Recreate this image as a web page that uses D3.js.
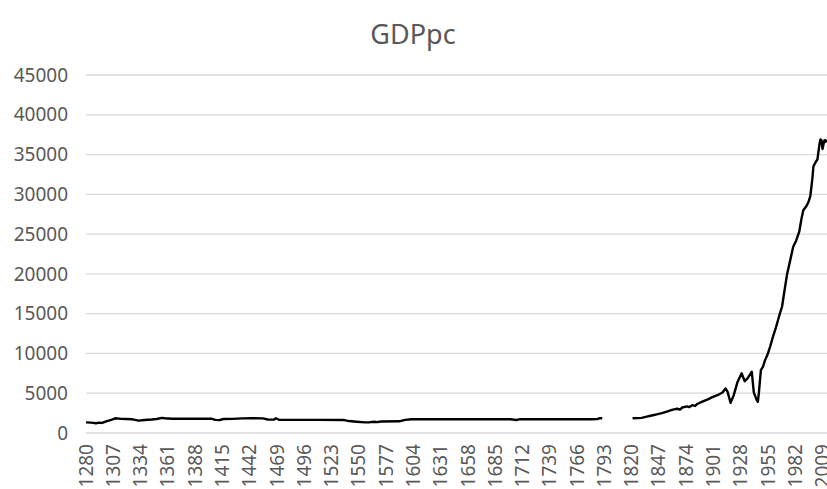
<!DOCTYPE html>
<html>
<head>
<meta charset="utf-8">
<script src="https://cdn.jsdelivr.net/npm/d3@7"></script>
<style>
  body { margin: 0; background: #fff; }
  svg text { font-family: "Noto Sans", "Open Sans", sans-serif; fill: #595959; }
</style>
</head>
<body>
<div id="chart"></div>
<script>
// GDP per capita (null = no data)
const years = [
  1280, 1285, 1290, 1293, 1296, 1300, 1305, 1309, 1315, 1320, 1326, 1332, 1338, 1345, 1350,
  1355, 1358, 1365, 1375, 1390, 1404, 1408, 1412, 1416, 1425, 1435, 1445, 1455, 1460, 1466,
  1468, 1471, 1490, 1510, 1535, 1540, 1548, 1556, 1561, 1565, 1568, 1572, 1590, 1596, 1602,
  1620, 1650, 1700, 1706, 1709, 1750, 1780, 1786, 1788, 1791,
  1800,
  1821, 1826, 1830, 1835, 1840, 1845, 1850, 1855, 1860, 1865, 1868, 1870, 1875, 1877, 1880,
  1883, 1885, 1890, 1895, 1900, 1905, 1910, 1913, 1915, 1918, 1921, 1925, 1929, 1932, 1935,
  1939, 1941, 1944, 1945, 1946, 1948, 1950, 1952, 1955, 1957, 1960, 1963, 1965, 1967, 1969,
  1971, 1974, 1977, 1980, 1983, 1986, 1988, 1990, 1993, 1995, 1997, 1999, 2000, 2002, 2004,
  2006, 2007, 2008, 2009, 2010, 2011, 2012, 2013
];
const gdppc = [
  1340, 1300, 1230, 1300, 1260, 1450, 1650, 1850, 1780, 1760, 1720, 1560, 1640, 1700, 1760,
  1900, 1850, 1800, 1800, 1790, 1800, 1650, 1620, 1760, 1780, 1840, 1850, 1840, 1700, 1680,
  1850, 1660, 1650, 1650, 1640, 1500, 1420, 1330, 1360, 1420, 1360, 1440, 1470, 1650, 1720,
  1720, 1720, 1720, 1640, 1720, 1720, 1730, 1740, 1850, 1850,
  null,
  1850, 1870, 1900, 2050, 2200, 2350, 2500, 2700, 2900, 3050, 2950, 3200, 3350, 3250, 3500,
  3400, 3650, 3950, 4200, 4500, 4750, 5100, 5600, 5200, 3800, 4700, 6450, 7500, 6500, 6900,
  7700, 5100, 4100, 3930, 5000, 7900, 8300, 9100, 10000, 10800, 12100, 13300, 14200, 15100, 15900,
  17600, 20000, 21700, 23400, 24200, 25300, 26800, 28000, 28500, 29000, 29800, 32000, 33500, 34000, 34400,
  36300, 36900, 36800, 35700, 36300, 36800, 36600, 36900
];
const yTicks = [0, 5000, 10000, 15000, 20000, 25000, 30000, 35000, 40000, 45000];
const xTickYears = d3.range(1280, 2010, 27);
const chartTitle = "GDPpc";

const W = 827, H = 489;
const svg = d3.select("#chart").append("svg")
  .attr("width", W).attr("height", H);

const x = d3.scaleLinear().domain([1280, 2009]).range([86, 822.5]);
const y = d3.scaleLinear().domain([0, 45000]).range([433, 75]);

svg.append("text")
  .attr("x", 413).attr("y", 44)
  .attr("text-anchor", "middle")
  .style("font-size", "27px")
  .text(chartTitle);

// gridlines + y labels
svg.append("g").selectAll("line")
  .data(yTicks).join("line")
  .attr("x1", 86).attr("x2", 827)
  .attr("y1", d => y(d)).attr("y2", d => y(d))
  .attr("stroke", "#d9d9d9").attr("stroke-width", 1.3);

svg.append("g").selectAll("text")
  .data(yTicks).join("text")
  .attr("x", 68).attr("y", d => y(d))
  .attr("dy", "0.35em")
  .attr("text-anchor", "end")
  .style("font-size", "19px")
  .text(d => d);

// x labels, rotated
svg.append("g").selectAll("text")
  .data(xTickYears).join("text")
  .attr("transform", d => `translate(${x(d)},444) rotate(-90)`)
  .attr("dy", "0.35em")
  .attr("text-anchor", "end")
  .style("font-size", "19px")
  .text(d => d);

const pts = years.map((yr, i) => ({ yr, v: gdppc[i] }));
const line = d3.line()
  .defined(d => d.v !== null)
  .x(d => x(d.yr))
  .y(d => y(d.v));

svg.append("path")
  .datum(pts)
  .attr("d", line)
  .attr("fill", "none")
  .attr("stroke", "#000")
  .attr("stroke-width", 2.4)
  .attr("stroke-linejoin", "round");
</script>
</body>
</html>
